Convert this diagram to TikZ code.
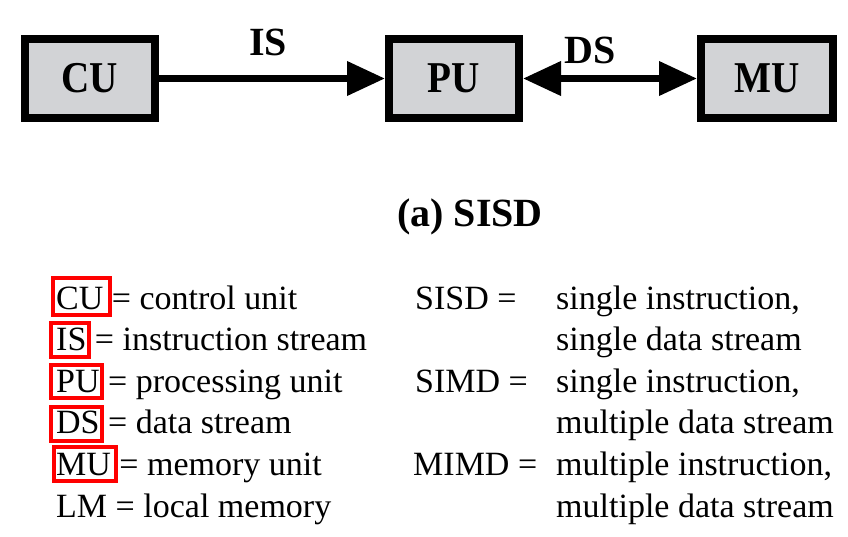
\documentclass[tikz,border=0pt]{standalone}
\usepackage{fontspec}
\setmainfont{Liberation Serif}
\newfontfamily\boxfont{Liberation Serif}[FakeStretch=0.89]
\usetikzlibrary{arrows.meta}
\definecolor{boxgray}{RGB}{210,211,214}
\tikzset{
  unitbox/.style={draw=black, fill=boxgray, line width=8pt, minimum width=130pt, minimum height=79pt, inner sep=0pt,
    font=\boxfont\bfseries\fontsize{44}{44}\selectfont},
  flowlabel/.style={font=\bfseries\fontsize{40}{40}\selectfont, inner sep=0pt},
  flowarrow/.style={line width=7pt},
  legendtext/.style={anchor=base west, inner sep=0pt, font=\fontsize{34}{40}\selectfont},
  redbox/.style={draw=red, line width=4pt, inner sep=0pt}
}
\newcommand{\boxtext}[1]{\raisebox{-3pt}{#1}}
\begin{document}
\begin{tikzpicture}[x=1pt,y=-1pt]
\useasboundingbox (0,0) rectangle (848,537);
% units
\node[unitbox] (cu) at (90,78.5) {\boxtext{CU}};
\node[unitbox] (pu) at (454,78.5) {\boxtext{PU}};
\node[unitbox, minimum width=132pt] (mu) at (767,78.5) {\boxtext{MU}};
% connectors
\draw[flowarrow, -{Triangle[length=38pt,width=33pt]}] (cu.east) -- (pu.west);
\draw[flowarrow, {Triangle[length=38pt,width=33pt]}-{Triangle[length=38pt,width=33pt]}] (pu.east) -- (mu.west);
\node[flowlabel] (is) at (268,42.5) {IS};
\node[flowlabel] (ds) at (590,50) {DS};
% caption
\node[flowlabel, anchor=base] (cap) at (470,227) {(a) SISD};
% legend left
\node[legendtext] (l1) at (56,309) {CU = control unit};
\node[legendtext] (l2) at (56,350.6) {IS = instruction stream};
\node[legendtext] (l3) at (56,392.2) {PU = processing unit};
\node[legendtext] (l4) at (56,433.8) {DS = data stream};
\node[legendtext] (l5) at (56,475.4) {MU = memory unit};
\node[legendtext] (l6) at (56,517) {LM = local memory};
% legend right
\node[legendtext] (r1a) at (415,309) {SISD =};
\node[legendtext] (r1b) at (556,309) {single instruction,};
\node[legendtext] (r1c) at (556,350.6) {single data stream};
\node[legendtext] (r2a) at (415,392.2) {SIMD =};
\node[legendtext] (r2b) at (556,392.2) {single instruction,};
\node[legendtext] (r2c) at (556,433.8) {multiple data stream};
\node[legendtext] (r3a) at (413,475.4) {MIMD =};
\node[legendtext] (r3b) at (556,475.4) {multiple instruction,};
\node[legendtext] (r3c) at (556,517) {multiple data stream};
% red highlight boxes
\node[redbox, minimum width=57pt, minimum height=37pt] (hcu) at (81.5,296.5) {};
\node[redbox, minimum width=38pt, minimum height=34pt] (his) at (70,340) {};
\node[redbox, minimum width=51pt, minimum height=33pt] (hpu) at (76.5,381.5) {};
\node[redbox, minimum width=51pt, minimum height=34pt] (hds) at (76.5,424) {};
\node[redbox, minimum width=62pt, minimum height=34pt] (hmu) at (85,464) {};
\end{tikzpicture}
\end{document}
